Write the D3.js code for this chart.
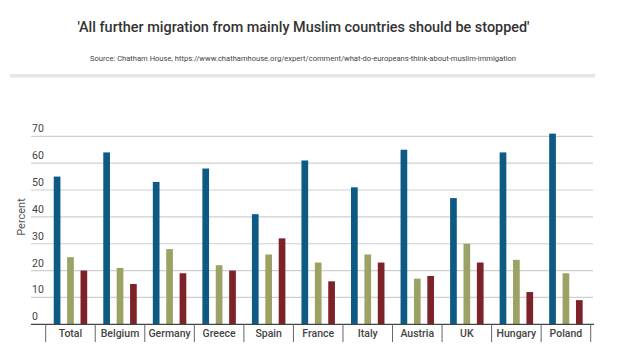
<!DOCTYPE html>
<html><head><meta charset="utf-8">
<script src="https://cdn.jsdelivr.net/npm/d3@7"></script>
<style>body{margin:0;background:#fff;}svg{display:block;font-family:Roboto,"Open Sans",sans-serif;}</style>
</head><body><svg id="c" width="628" height="360"></svg>
<script>
const categories = ["Total","Belgium","Germany","Greece","Spain","France","Italy","Austria","UK","Hungary","Poland"];
const seriesNames = ["s1","s2","s3"];
const series1 = [55,64,53,58,41,61,51,65,47,64,71];
const series2 = [25,21,28,22,26,23,26,17,30,24,19];
const series3 = [20,15,19,20,32,16,23,18,23,12,9];
const yTicks = [0,10,20,30,40,50,60,70];
const colors = ["#0d5a85","#9ba264","#7d2229"];
const title = "'All further migration from mainly Muslim countries should be stopped'";
const source = "Source: Chatham House, https://www.chathamhouse.org/expert/comment/what-do-europeans-think-about-muslim-immigation";

const svg = d3.select("#c");
svg.append("text").attr("x",77.5).attr("y",32).attr("textLength",452).attr("lengthAdjust","spacingAndGlyphs")
  .attr("font-size",14.8).attr("font-weight",500).attr("fill","#333").text(title);
svg.append("text").attr("x",90).attr("y",60.5).attr("textLength",426).attr("lengthAdjust","spacingAndGlyphs")
  .attr("font-size",7.6).attr("fill","#444").text(source);
svg.append("rect").attr("x",10).attr("y",74).attr("width",585).attr("height",3.5).attr("fill","#e6e6e6");

const x0 = d3.scaleBand().domain(categories).range([45.7,590.7]).padding(0);
const x1 = d3.scaleBand().domain(seriesNames).range([0,x0.bandwidth()]).paddingInner(0.5).paddingOuter(0.6);
const y = d3.scaleLinear().domain([0,70]).range([324.3,136.3]);

const g = svg.append("g");
g.selectAll("line.grid").data(yTicks.filter(d=>d>0)).join("line")
  .attr("x1",31).attr("x2",593).attr("y1",d=>y(d)).attr("y2",d=>y(d))
  .attr("stroke","#cfcfcf").attr("stroke-width",1.2);
g.selectAll("text.yl").data(yTicks).join("text")
  .attr("x",32).attr("y",d=>y(d)-4).attr("font-size",10.5).attr("fill","#444").text(d=>d);
svg.append("text").attr("transform","translate(25,217) rotate(-90)").attr("text-anchor","middle")
  .attr("font-size",11).attr("fill","#555").text("Percent");

const data = categories.map((c,i)=>({c, v:[series1[i],series2[i],series3[i]]}));
const groups = g.selectAll("g.cat").data(data).join("g").attr("transform",d=>`translate(${x0(d.c)},0)`);
groups.selectAll("rect").data(d=>d.v.map((v,j)=>({k:seriesNames[j],v,j}))).join("rect")
  .attr("x",d=>x1(d.k)).attr("width",x1.bandwidth())
  .attr("y",d=>y(d.v)).attr("height",d=>y(0)-y(d.v)).attr("fill",d=>colors[d.j]);

svg.append("line").attr("x1",31).attr("x2",594).attr("y1",y(0)).attr("y2",y(0)).attr("stroke","#444").attr("stroke-width",1.3);
const seps = categories.map(c=>x0(c)).concat([x0(categories[categories.length-1])+x0.bandwidth()]);
svg.selectAll("line.sep").data(seps).join("line")
  .attr("x1",d=>d).attr("x2",d=>d).attr("y1",y(0)).attr("y2",342).attr("stroke","#666").attr("stroke-width",1);
svg.selectAll("text.cl").data(categories).join("text")
  .attr("x",d=>x0(d)+x0.bandwidth()/2).attr("y",337).attr("text-anchor","middle")
  .attr("font-size",10.5).attr("font-weight",500).attr("fill","#444").text(d=>d);
</script></body></html>
